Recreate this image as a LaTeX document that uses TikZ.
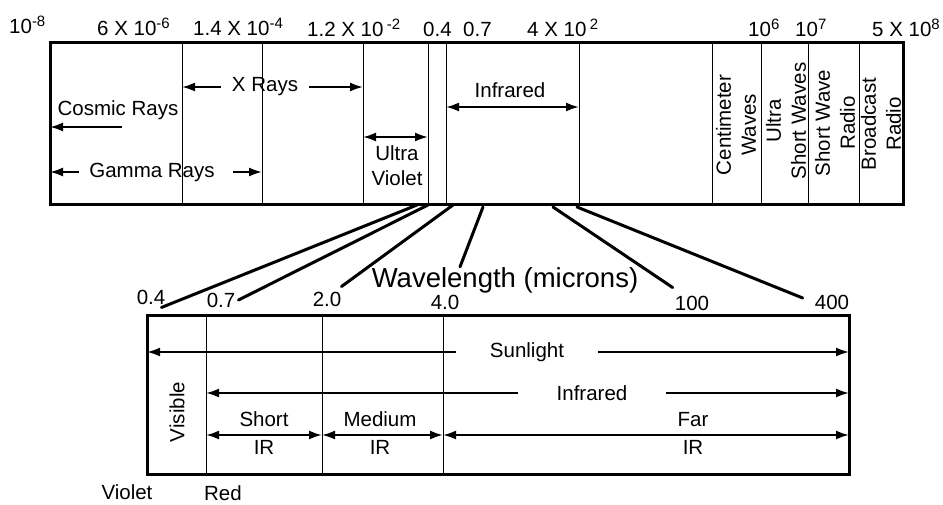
\documentclass[tikz,border=0pt]{standalone}
\usepackage{fontspec}
\setmainfont{Liberation Sans}
\usetikzlibrary{arrows.meta}

% Raised exponent, nearly as large as the digits
\newcommand{\expo}[1]{\raisebox{7pt}{\fontsize{15}{15}\selectfont #1}}

\begin{document}
\begin{tikzpicture}[x=1pt,y=-1pt,
  lbl/.style={font=\fontsize{20.5}{25}\selectfont, inner sep=0pt},
  twoline/.style={lbl, align=center, font=\fontsize{20.5}{28}\selectfont},
  biglbl/.style={font=\fontsize{27.5}{30}\selectfont, inner sep=0pt},
  frame/.style={line width=3pt},
  band/.style={line width=1pt},
  fan/.style={line width=3pt, line cap=round},
  arr/.style={line width=2pt, -{Latex[length=13pt,width=9pt]}},
  darr/.style={line width=2pt, {Latex[length=13pt,width=9pt]}-{Latex[length=13pt,width=9pt]}}]

% Fix the size of the picture
\useasboundingbox (0,0) rectangle (943,504);

% Draw the spectrum box and its bands
\draw [frame] (50,42) rectangle (903,204);
\foreach \x/\n in {182/a,262/b,363/c,428/d,446/e,579/f,712/g,761/h,808/i,859/j} {
  \draw [band] (\x,42) -- (\x,204);
  \coordinate (\n) at (\x,204);
}
\coordinate (left) at (50,204);
\coordinate (right) at (903,204);

% Scale above the spectrum box
\node [lbl, anchor=base west] (s1) at (9,33) {10\expo{-8}};
\node [lbl, anchor=base west] (s2) at (97,35) {6 X 10\expo{-6}};
\node [lbl, anchor=base west] (s3) at (193,35) {1.4 X 10\expo{-4}};
\node [lbl, anchor=base west] (s4) at (307,36) {1.2 X 10\,\expo{-2}};
\node [lbl, anchor=base west] (s5) at (423,36) {0.4};
\node [lbl, anchor=base west] (s6) at (463,36) {0.7};
\node [lbl, anchor=base west] (s7) at (527,36) {4 X 10\,\expo{2}};
\node [lbl, anchor=base west] (s8) at (748,36) {10\expo{6}};
\node [lbl, anchor=base west] (s9) at (795,36) {10\expo{7}};
\node [lbl, anchor=base west] (s10) at (872,36) {5 X 10\expo{8}};

% Cosmic and gamma rays
\node [lbl] (cosmic) at (118,110) {Cosmic Rays};
\coordinate (cosmic arrow) at (122,127);
\draw [arr] (cosmic arrow) -- (cosmic arrow -| left);
\node [lbl] (gamma) at (152,172) {Gamma Rays};
\draw [arr] ([xshift=-10pt]gamma.west) -- (gamma.west -| left);
\draw [arr] ([xshift=18pt]gamma.east) -- (gamma.east -| b);

% X rays
\node [lbl, inner xsep=11pt] (xray) at (265,87) {X Rays};
\draw [arr] (xray.west) -- (xray.west -| a);
\draw [arr] (xray.east) -- (xray.east -| c);

% Ultra violet and infrared
\node [twoline, font=\fontsize{20.5}{25}\selectfont] (uv) at (397,166) {Ultra\\Violet};
\coordinate (uv arrow) at (397,137);
\draw [darr] (uv arrow -| c) -- (uv arrow -| d);
\node [lbl] (ir) at (510,90) {Infrared};
\coordinate (ir arrow) at (510,107);
\draw [darr] (ir arrow -| e) -- (ir arrow -| f);

% Radio bands, written upwards
\node [lbl, rotate=90, align=center] (cm) at (736,125) {Centimeter\\Waves};
\node [lbl, rotate=90, align=center] (usw) at (786,121) {Ultra\\Short Waves};
\node [lbl, rotate=90, align=center] (swr) at (835,123) {Short Wave\\Radio};
\node [lbl, rotate=90, align=center] (bcr) at (881,124) {Broadcast\\Radio};

% Wavelengths of the enlarged part
\node [lbl] (w04) at (151,297) {0.4};
\node [lbl] (w07) at (221,300) {0.7};
\node [lbl] (w20) at (327,299) {2.0};
\node [lbl] (w40) at (445,302) {4.0};
\node [lbl] (w100) at (692,303) {100};
\node [lbl] (w400) at (832,302) {400};
\node [biglbl, anchor=base] (wave) at (505,287) {Wavelength (microns)};

% Lines fanning out of the spectrum box
\coordinate (f1) at (417,205);
\coordinate (f2) at (428,205);
\coordinate (f3) at (453,205);
\coordinate (f4) at (483,207);
\coordinate (f5) at (553,207);
\coordinate (f6) at (577,207);
\draw [fan] (f1) -- ([xshift=-4pt,yshift=-3pt]w04.south east);
\draw [fan] (f2) -- ([xshift=3pt]w07.east);
\draw [fan] (f3) -- ([yshift=5pt]w20.north east);
\draw [fan] (f4) -- ([xshift=-45pt]wave.north);
\draw [fan] (f5) -- ([xshift=-2pt,yshift=8pt]w100.north west);
\draw [fan] (f6) -- ([xshift=-12pt,yshift=4pt]w400.west);

% Draw the enlarged box and its bands
\draw [frame] (147,315) rectangle (849,474);
\foreach \x/\n in {206/p,322/q,443/s} {
  \draw [band] (\x,315) -- (\x,474);
  \coordinate (\n) at (\x,474);
}
\coordinate (low left) at (147,474);
\coordinate (low right) at (849,474);

% Sunlight and infrared
\node [lbl, inner xsep=34pt] (sun) at (527,352) {Sunlight};
\draw [arr] (sun.west) -- (sun.west -| low left);
\draw [arr] (sun.east) -- (sun.east -| low right);
\node [lbl, inner xsep=38pt] (ir low) at (592,393) {Infrared};
\draw [arr] (ir low.west) -- (ir low.west -| p);
\draw [arr] (ir low.east) -- (ir low.east -| low right);

% Short, medium and far infrared
\node [twoline] (short) at (264,433) {Short\\IR};
\node [twoline] (medium) at (380,433) {Medium\\IR};
\node [twoline] (far) at (693,433) {Far\\IR};
\coordinate (ir bands) at (264,435);
\draw [darr] (ir bands -| p) -- (ir bands -| q);
\draw [darr] (ir bands -| q) -- (ir bands -| s);
\draw [darr] (ir bands -| s) -- (ir bands -| low right);

% Visible light
\node [lbl, rotate=90] (visible) at (177,412) {Visible};
\node [lbl] (violet) at (127,492) {Violet};
\node [lbl] (red) at (223,493) {Red};

\end{tikzpicture}
\end{document}
